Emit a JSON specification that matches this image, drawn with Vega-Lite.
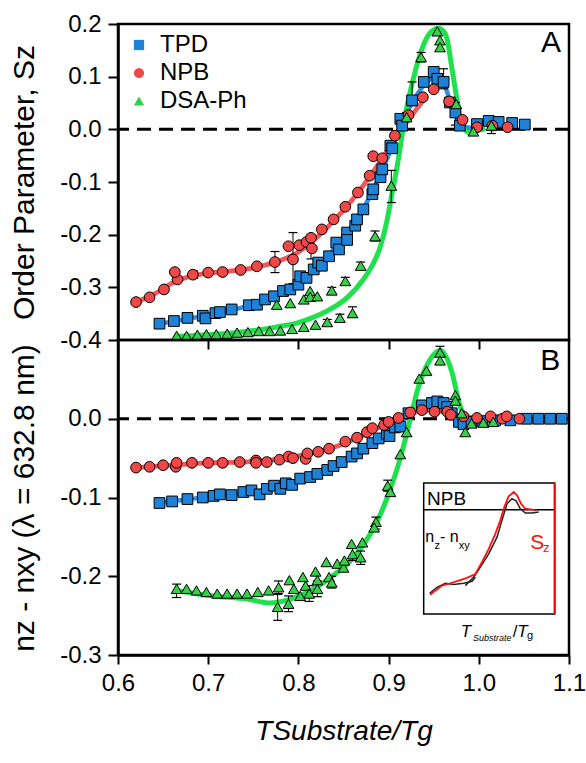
{
  "$schema": "https://vega.github.io/schema/vega-lite/v6.json",
  "padding": {"left": 8, "top": 10, "right": 0, "bottom": 0},
  "bounds": "flush",
  "spacing": 0,
  "background": "white",
  "config": {
    "font": "Liberation Sans",
    "locale": {"number": {"decimal": ".", "thousands": ",", "grouping": [3], "currency": ["", ""], "minus": "-"}},
    "view": {"stroke": "black", "strokeWidth": 2.5},
    "axis": {"domainColor": "black", "domainWidth": 2.5, "tickColor": "black", "tickWidth": 2, "tickSize": 10, "labelFontSize": 24, "labelColor": "black", "labelFont": "Liberation Sans", "labelPadding": 7, "titleFontSize": 30, "titleFontWeight": "normal", "titleColor": "black", "titleFont": "Liberation Sans", "grid": false}
  },
  "datasets": {
    "zero": [{"v": 0}],
    "ptsA": [
      {"series": "TPD", "x": 0.646, "y": -0.369}, {"series": "TPD", "x": 0.662, "y": -0.364}, {"series": "TPD", "x": 0.677, "y": -0.358}, {"series": "TPD", "x": 0.694, "y": -0.354}, {"series": "TPD", "x": 0.697, "y": -0.359}, {"series": "TPD", "x": 0.708, "y": -0.349}, {"series": "TPD", "x": 0.713, "y": -0.347}, {"series": "TPD", "x": 0.726, "y": -0.342}, {"series": "TPD", "x": 0.745, "y": -0.334}, {"series": "TPD", "x": 0.754, "y": -0.333}, {"series": "TPD", "x": 0.763, "y": -0.323}, {"series": "TPD", "x": 0.773, "y": -0.317}, {"series": "TPD", "x": 0.783, "y": -0.307}, {"series": "TPD", "x": 0.791, "y": -0.304}, {"series": "TPD", "x": 0.800, "y": -0.295}, {"series": "TPD", "x": 0.802, "y": -0.279}, {"series": "TPD", "x": 0.809, "y": -0.282}, {"series": "TPD", "x": 0.817, "y": -0.266}, {"series": "TPD", "x": 0.822, "y": -0.253}, {"series": "TPD", "x": 0.826, "y": -0.259}, {"series": "TPD", "x": 0.834, "y": -0.241}, {"series": "TPD", "x": 0.842, "y": -0.215}, {"series": "TPD", "x": 0.845, "y": -0.228}, {"series": "TPD", "x": 0.854, "y": -0.196}, {"series": "TPD", "x": 0.854, "y": -0.210}, {"series": "TPD", "x": 0.863, "y": -0.183}, {"series": "TPD", "x": 0.865, "y": -0.171}, {"series": "TPD", "x": 0.872, "y": -0.152}, {"series": "TPD", "x": 0.882, "y": -0.123}, {"series": "TPD", "x": 0.883, "y": -0.114}, {"series": "TPD", "x": 0.891, "y": -0.091}, {"series": "TPD", "x": 0.893, "y": -0.076}, {"series": "TPD", "x": 0.902, "y": -0.031}, {"series": "TPD", "x": 0.904, "y": -0.036}, {"series": "TPD", "x": 0.913, "y": 0.020}, {"series": "TPD", "x": 0.915, "y": 0.007}, {"series": "TPD", "x": 0.926, "y": 0.055}, {"series": "TPD", "x": 0.939, "y": 0.090}, {"series": "TPD", "x": 0.950, "y": 0.109}, {"series": "TPD", "x": 0.954, "y": 0.096}, {"series": "TPD", "x": 0.961, "y": 0.090}, {"series": "TPD", "x": 0.968, "y": 0.051}, {"series": "TPD", "x": 0.974, "y": 0.032}, {"series": "TPD", "x": 0.979, "y": 0.007}, {"series": "TPD", "x": 0.998, "y": 0.010}, {"series": "TPD", "x": 1.011, "y": 0.016}, {"series": "TPD", "x": 1.022, "y": 0.014}, {"series": "TPD", "x": 1.037, "y": 0.012}, {"series": "TPD", "x": 1.051, "y": 0.009},
      {"series": "NPB", "x": 0.620, "y": -0.328}, {"series": "NPB", "x": 0.635, "y": -0.319}, {"series": "NPB", "x": 0.651, "y": -0.304}, {"series": "NPB", "x": 0.666, "y": -0.285}, {"series": "NPB", "x": 0.663, "y": -0.271}, {"series": "NPB", "x": 0.683, "y": -0.276}, {"series": "NPB", "x": 0.700, "y": -0.272}, {"series": "NPB", "x": 0.716, "y": -0.271}, {"series": "NPB", "x": 0.736, "y": -0.267}, {"series": "NPB", "x": 0.754, "y": -0.260}, {"series": "NPB", "x": 0.774, "y": -0.252}, {"series": "NPB", "x": 0.789, "y": -0.222}, {"series": "NPB", "x": 0.794, "y": -0.247}, {"series": "NPB", "x": 0.801, "y": -0.220}, {"series": "NPB", "x": 0.809, "y": -0.214}, {"series": "NPB", "x": 0.814, "y": -0.206}, {"series": "NPB", "x": 0.815, "y": -0.226}, {"series": "NPB", "x": 0.826, "y": -0.190}, {"series": "NPB", "x": 0.839, "y": -0.171}, {"series": "NPB", "x": 0.852, "y": -0.147}, {"series": "NPB", "x": 0.866, "y": -0.120}, {"series": "NPB", "x": 0.879, "y": -0.088}, {"series": "NPB", "x": 0.883, "y": -0.051}, {"series": "NPB", "x": 0.893, "y": -0.055}, {"series": "NPB", "x": 0.907, "y": -0.012}, {"series": "NPB", "x": 0.922, "y": 0.027}, {"series": "NPB", "x": 0.938, "y": 0.061}, {"series": "NPB", "x": 0.950, "y": 0.076}, {"series": "NPB", "x": 0.967, "y": 0.053}, {"series": "NPB", "x": 0.982, "y": 0.018}, {"series": "NPB", "x": 0.998, "y": 0.004}, {"series": "NPB", "x": 1.015, "y": 0.007}, {"series": "NPB", "x": 1.032, "y": 0.004},
      {"series": "DSA-Ph", "x": 0.665, "y": -0.392}, {"series": "DSA-Ph", "x": 0.676, "y": -0.392}, {"series": "DSA-Ph", "x": 0.688, "y": -0.390}, {"series": "DSA-Ph", "x": 0.698, "y": -0.389}, {"series": "DSA-Ph", "x": 0.709, "y": -0.389}, {"series": "DSA-Ph", "x": 0.721, "y": -0.388}, {"series": "DSA-Ph", "x": 0.732, "y": -0.386}, {"series": "DSA-Ph", "x": 0.744, "y": -0.385}, {"series": "DSA-Ph", "x": 0.756, "y": -0.383}, {"series": "DSA-Ph", "x": 0.768, "y": -0.383}, {"series": "DSA-Ph", "x": 0.780, "y": -0.382}, {"series": "DSA-Ph", "x": 0.793, "y": -0.379}, {"series": "DSA-Ph", "x": 0.806, "y": -0.375}, {"series": "DSA-Ph", "x": 0.819, "y": -0.371}, {"series": "DSA-Ph", "x": 0.832, "y": -0.366}, {"series": "DSA-Ph", "x": 0.846, "y": -0.358}, {"series": "DSA-Ph", "x": 0.860, "y": -0.349}, {"series": "DSA-Ph", "x": 0.776, "y": -0.333}, {"series": "DSA-Ph", "x": 0.791, "y": -0.330}, {"series": "DSA-Ph", "x": 0.806, "y": -0.323}, {"series": "DSA-Ph", "x": 0.813, "y": -0.307}, {"series": "DSA-Ph", "x": 0.813, "y": -0.318}, {"series": "DSA-Ph", "x": 0.821, "y": -0.317}, {"series": "DSA-Ph", "x": 0.837, "y": -0.306}, {"series": "DSA-Ph", "x": 0.852, "y": -0.288}, {"series": "DSA-Ph", "x": 0.869, "y": -0.259}, {"series": "DSA-Ph", "x": 0.885, "y": -0.203}, {"series": "DSA-Ph", "x": 0.903, "y": -0.107}, {"series": "DSA-Ph", "x": 0.920, "y": 0.023}, {"series": "DSA-Ph", "x": 0.936, "y": 0.137}, {"series": "DSA-Ph", "x": 0.954, "y": 0.186}, {"series": "DSA-Ph", "x": 0.957, "y": 0.169}, {"series": "DSA-Ph", "x": 0.957, "y": 0.156}, {"series": "DSA-Ph", "x": 0.975, "y": 0.048}, {"series": "DSA-Ph", "x": 0.994, "y": -0.004}, {"series": "DSA-Ph", "x": 1.014, "y": 0.007}
    ],
    "fitA": [
      {"series": "TPD", "x": 0.646, "y": -0.369}, {"series": "TPD", "x": 0.68, "y": -0.359}, {"series": "TPD", "x": 0.71, "y": -0.349}, {"series": "TPD", "x": 0.74, "y": -0.337}, {"series": "TPD", "x": 0.77, "y": -0.320}, {"series": "TPD", "x": 0.79, "y": -0.303}, {"series": "TPD", "x": 0.81, "y": -0.278}, {"series": "TPD", "x": 0.83, "y": -0.246}, {"series": "TPD", "x": 0.85, "y": -0.205}, {"series": "TPD", "x": 0.865, "y": -0.170}, {"series": "TPD", "x": 0.88, "y": -0.125}, {"series": "TPD", "x": 0.893, "y": -0.075}, {"series": "TPD", "x": 0.905, "y": -0.030}, {"series": "TPD", "x": 0.915, "y": 0.012}, {"series": "TPD", "x": 0.926, "y": 0.050}, {"series": "TPD", "x": 0.94, "y": 0.085}, {"series": "TPD", "x": 0.95, "y": 0.098}, {"series": "TPD", "x": 0.96, "y": 0.090}, {"series": "TPD", "x": 0.97, "y": 0.045}, {"series": "TPD", "x": 0.98, "y": 0.012}, {"series": "TPD", "x": 0.99, "y": 0.003}, {"series": "TPD", "x": 1.0, "y": 0.005},
      {"series": "NPB", "x": 0.62, "y": -0.328}, {"series": "NPB", "x": 0.64, "y": -0.313}, {"series": "NPB", "x": 0.66, "y": -0.292}, {"series": "NPB", "x": 0.68, "y": -0.279}, {"series": "NPB", "x": 0.70, "y": -0.273}, {"series": "NPB", "x": 0.72, "y": -0.270}, {"series": "NPB", "x": 0.74, "y": -0.266}, {"series": "NPB", "x": 0.76, "y": -0.259}, {"series": "NPB", "x": 0.78, "y": -0.249}, {"series": "NPB", "x": 0.80, "y": -0.233}, {"series": "NPB", "x": 0.82, "y": -0.206}, {"series": "NPB", "x": 0.84, "y": -0.172}, {"series": "NPB", "x": 0.86, "y": -0.133}, {"series": "NPB", "x": 0.88, "y": -0.088}, {"series": "NPB", "x": 0.895, "y": -0.050}, {"series": "NPB", "x": 0.91, "y": -0.012}, {"series": "NPB", "x": 0.925, "y": 0.025}, {"series": "NPB", "x": 0.94, "y": 0.058},
      {"series": "DSA-Ph", "x": 0.665, "y": -0.393}, {"series": "DSA-Ph", "x": 0.70, "y": -0.390}, {"series": "DSA-Ph", "x": 0.73, "y": -0.386}, {"series": "DSA-Ph", "x": 0.76, "y": -0.380}, {"series": "DSA-Ph", "x": 0.78, "y": -0.374}, {"series": "DSA-Ph", "x": 0.798, "y": -0.368}, {"series": "DSA-Ph", "x": 0.815, "y": -0.358}, {"series": "DSA-Ph", "x": 0.835, "y": -0.342}, {"series": "DSA-Ph", "x": 0.855, "y": -0.318}, {"series": "DSA-Ph", "x": 0.872, "y": -0.285}, {"series": "DSA-Ph", "x": 0.882, "y": -0.258}, {"series": "DSA-Ph", "x": 0.891, "y": -0.222}, {"series": "DSA-Ph", "x": 0.898, "y": -0.175}, {"series": "DSA-Ph", "x": 0.904, "y": -0.120}, {"series": "DSA-Ph", "x": 0.910, "y": -0.065}, {"series": "DSA-Ph", "x": 0.915, "y": -0.010}, {"series": "DSA-Ph", "x": 0.920, "y": 0.040}, {"series": "DSA-Ph", "x": 0.926, "y": 0.086}, {"series": "DSA-Ph", "x": 0.935, "y": 0.143}, {"series": "DSA-Ph", "x": 0.946, "y": 0.183}, {"series": "DSA-Ph", "x": 0.955, "y": 0.192}, {"series": "DSA-Ph", "x": 0.961, "y": 0.186}, {"series": "DSA-Ph", "x": 0.965, "y": 0.170}, {"series": "DSA-Ph", "x": 0.970, "y": 0.118}, {"series": "DSA-Ph", "x": 0.976, "y": 0.055}, {"series": "DSA-Ph", "x": 0.981, "y": 0.010}, {"series": "DSA-Ph", "x": 0.989, "y": -0.006}, {"series": "DSA-Ph", "x": 0.998, "y": -0.002}, {"series": "DSA-Ph", "x": 1.005, "y": 0.0}
    ],
    "errA": [
      {"x": 0.774, "lo": -0.272, "hi": -0.232}, {"x": 0.794, "lo": -0.293, "hi": -0.196}, {"x": 0.814, "lo": -0.246, "hi": -0.200}, {"x": 0.684, "lo": -0.283, "hi": -0.269},
      {"x": 0.926, "lo": 0.045, "hi": 0.090}, {"x": 0.961, "lo": 0.077, "hi": 0.115}, {"x": 0.974, "lo": 0.008, "hi": 0.051},
      {"x": 0.832, "lo": -0.371, "hi": -0.361}, {"x": 0.846, "lo": -0.364, "hi": -0.351}, {"x": 0.860, "lo": -0.357, "hi": -0.337}, {"x": 0.837, "lo": -0.311, "hi": -0.300}, {"x": 0.852, "lo": -0.294, "hi": -0.281}, {"x": 0.869, "lo": -0.265, "hi": -0.252}, {"x": 0.885, "lo": -0.212, "hi": -0.193}, {"x": 0.903, "lo": -0.139, "hi": -0.078}, {"x": 0.920, "lo": 0.015, "hi": 0.032}, {"x": 0.936, "lo": 0.128, "hi": 0.146}, {"x": 1.014, "lo": -0.008, "hi": 0.016}
    ],
    "ptsB": [
      {"series": "TPD", "x": 0.646, "y": -0.107}, {"series": "TPD", "x": 0.660, "y": -0.105}, {"series": "TPD", "x": 0.677, "y": -0.102}, {"series": "TPD", "x": 0.694, "y": -0.100}, {"series": "TPD", "x": 0.706, "y": -0.098}, {"series": "TPD", "x": 0.713, "y": -0.096}, {"series": "TPD", "x": 0.726, "y": -0.097}, {"series": "TPD", "x": 0.739, "y": -0.093}, {"series": "TPD", "x": 0.748, "y": -0.091}, {"series": "TPD", "x": 0.757, "y": -0.096}, {"series": "TPD", "x": 0.765, "y": -0.089}, {"series": "TPD", "x": 0.773, "y": -0.085}, {"series": "TPD", "x": 0.780, "y": -0.089}, {"series": "TPD", "x": 0.786, "y": -0.082}, {"series": "TPD", "x": 0.793, "y": -0.084}, {"series": "TPD", "x": 0.802, "y": -0.076}, {"series": "TPD", "x": 0.813, "y": -0.074}, {"series": "TPD", "x": 0.821, "y": -0.070}, {"series": "TPD", "x": 0.832, "y": -0.065}, {"series": "TPD", "x": 0.839, "y": -0.060}, {"series": "TPD", "x": 0.848, "y": -0.055}, {"series": "TPD", "x": 0.859, "y": -0.048}, {"series": "TPD", "x": 0.865, "y": -0.044}, {"series": "TPD", "x": 0.872, "y": -0.038}, {"series": "TPD", "x": 0.882, "y": -0.031}, {"series": "TPD", "x": 0.889, "y": -0.025}, {"series": "TPD", "x": 0.898, "y": -0.019}, {"series": "TPD", "x": 0.901, "y": -0.022}, {"series": "TPD", "x": 0.907, "y": -0.011}, {"series": "TPD", "x": 0.913, "y": -0.010}, {"series": "TPD", "x": 0.922, "y": 0.007}, {"series": "TPD", "x": 0.937, "y": 0.017}, {"series": "TPD", "x": 0.948, "y": 0.020}, {"series": "TPD", "x": 0.954, "y": 0.022}, {"series": "TPD", "x": 0.961, "y": 0.020}, {"series": "TPD", "x": 0.965, "y": 0.015}, {"series": "TPD", "x": 0.970, "y": 0.007}, {"series": "TPD", "x": 0.978, "y": -0.004}, {"series": "TPD", "x": 0.983, "y": -0.007}, {"series": "TPD", "x": 0.992, "y": -0.004}, {"series": "TPD", "x": 1.004, "y": -0.003}, {"series": "TPD", "x": 1.018, "y": -0.002}, {"series": "TPD", "x": 1.035, "y": -0.002}, {"series": "TPD", "x": 1.053, "y": 0.0}, {"series": "TPD", "x": 1.066, "y": 0.0}, {"series": "TPD", "x": 1.079, "y": 0.0}, {"series": "TPD", "x": 1.092, "y": 0.0},
      {"series": "NPB", "x": 0.620, "y": -0.062}, {"series": "NPB", "x": 0.635, "y": -0.061}, {"series": "NPB", "x": 0.650, "y": -0.059}, {"series": "NPB", "x": 0.664, "y": -0.061}, {"series": "NPB", "x": 0.665, "y": -0.056}, {"series": "NPB", "x": 0.682, "y": -0.056}, {"series": "NPB", "x": 0.700, "y": -0.056}, {"series": "NPB", "x": 0.716, "y": -0.056}, {"series": "NPB", "x": 0.735, "y": -0.055}, {"series": "NPB", "x": 0.753, "y": -0.053}, {"series": "NPB", "x": 0.753, "y": -0.056}, {"series": "NPB", "x": 0.765, "y": -0.055}, {"series": "NPB", "x": 0.779, "y": -0.052}, {"series": "NPB", "x": 0.789, "y": -0.048}, {"series": "NPB", "x": 0.794, "y": -0.050}, {"series": "NPB", "x": 0.808, "y": -0.051}, {"series": "NPB", "x": 0.810, "y": -0.044}, {"series": "NPB", "x": 0.822, "y": -0.042}, {"series": "NPB", "x": 0.834, "y": -0.038}, {"series": "NPB", "x": 0.852, "y": -0.029}, {"series": "NPB", "x": 0.865, "y": -0.024}, {"series": "NPB", "x": 0.876, "y": -0.017}, {"series": "NPB", "x": 0.882, "y": -0.012}, {"series": "NPB", "x": 0.895, "y": -0.008}, {"series": "NPB", "x": 0.900, "y": -0.004}, {"series": "NPB", "x": 0.911, "y": 0.001}, {"series": "NPB", "x": 0.924, "y": 0.008}, {"series": "NPB", "x": 0.937, "y": 0.011}, {"series": "NPB", "x": 0.951, "y": 0.009}, {"series": "NPB", "x": 0.965, "y": 0.009}, {"series": "NPB", "x": 0.969, "y": 0.005}, {"series": "NPB", "x": 0.983, "y": 0.003}, {"series": "NPB", "x": 0.998, "y": 0.001}, {"series": "NPB", "x": 1.013, "y": 0.003}, {"series": "NPB", "x": 1.026, "y": 0.0}, {"series": "NPB", "x": 1.031, "y": 0.003}, {"series": "NPB", "x": 1.045, "y": 0.0},
      {"series": "DSA-Ph", "x": 0.665, "y": -0.216}, {"series": "DSA-Ph", "x": 0.676, "y": -0.216}, {"series": "DSA-Ph", "x": 0.687, "y": -0.218}, {"series": "DSA-Ph", "x": 0.698, "y": -0.220}, {"series": "DSA-Ph", "x": 0.710, "y": -0.222}, {"series": "DSA-Ph", "x": 0.721, "y": -0.222}, {"series": "DSA-Ph", "x": 0.732, "y": -0.222}, {"series": "DSA-Ph", "x": 0.743, "y": -0.222}, {"series": "DSA-Ph", "x": 0.755, "y": -0.220}, {"series": "DSA-Ph", "x": 0.767, "y": -0.218}, {"series": "DSA-Ph", "x": 0.778, "y": -0.214}, {"series": "DSA-Ph", "x": 0.777, "y": -0.239}, {"series": "DSA-Ph", "x": 0.790, "y": -0.205}, {"series": "DSA-Ph", "x": 0.789, "y": -0.235}, {"series": "DSA-Ph", "x": 0.795, "y": -0.216}, {"series": "DSA-Ph", "x": 0.802, "y": -0.225}, {"series": "DSA-Ph", "x": 0.805, "y": -0.201}, {"series": "DSA-Ph", "x": 0.808, "y": -0.212}, {"series": "DSA-Ph", "x": 0.812, "y": -0.222}, {"series": "DSA-Ph", "x": 0.819, "y": -0.194}, {"series": "DSA-Ph", "x": 0.821, "y": -0.205}, {"series": "DSA-Ph", "x": 0.821, "y": -0.216}, {"series": "DSA-Ph", "x": 0.831, "y": -0.182}, {"series": "DSA-Ph", "x": 0.834, "y": -0.201}, {"series": "DSA-Ph", "x": 0.837, "y": -0.208}, {"series": "DSA-Ph", "x": 0.843, "y": -0.184}, {"series": "DSA-Ph", "x": 0.850, "y": -0.189}, {"series": "DSA-Ph", "x": 0.851, "y": -0.180}, {"series": "DSA-Ph", "x": 0.859, "y": -0.159}, {"series": "DSA-Ph", "x": 0.860, "y": -0.172}, {"series": "DSA-Ph", "x": 0.869, "y": -0.176}, {"series": "DSA-Ph", "x": 0.871, "y": -0.157}, {"series": "DSA-Ph", "x": 0.886, "y": -0.131}, {"series": "DSA-Ph", "x": 0.884, "y": -0.138}, {"series": "DSA-Ph", "x": 0.899, "y": -0.085}, {"series": "DSA-Ph", "x": 0.902, "y": -0.093}, {"series": "DSA-Ph", "x": 0.913, "y": -0.045}, {"series": "DSA-Ph", "x": 0.920, "y": -0.017}, {"series": "DSA-Ph", "x": 0.934, "y": 0.051}, {"series": "DSA-Ph", "x": 0.942, "y": 0.061}, {"series": "DSA-Ph", "x": 0.957, "y": 0.084}, {"series": "DSA-Ph", "x": 0.957, "y": 0.074}, {"series": "DSA-Ph", "x": 0.974, "y": 0.030}, {"series": "DSA-Ph", "x": 0.974, "y": 0.023}, {"series": "DSA-Ph", "x": 0.981, "y": 0.007}, {"series": "DSA-Ph", "x": 0.985, "y": -0.017}, {"series": "DSA-Ph", "x": 0.992, "y": -0.006}, {"series": "DSA-Ph", "x": 1.005, "y": -0.005}, {"series": "DSA-Ph", "x": 1.016, "y": -0.004}
    ],
    "fitB": [
      {"series": "TPD", "x": 0.646, "y": -0.107}, {"series": "TPD", "x": 0.68, "y": -0.102}, {"series": "TPD", "x": 0.72, "y": -0.097}, {"series": "TPD", "x": 0.76, "y": -0.091}, {"series": "TPD", "x": 0.79, "y": -0.083}, {"series": "TPD", "x": 0.82, "y": -0.070}, {"series": "TPD", "x": 0.85, "y": -0.054}, {"series": "TPD", "x": 0.88, "y": -0.033}, {"series": "TPD", "x": 0.90, "y": -0.018}, {"series": "TPD", "x": 0.92, "y": 0.003}, {"series": "TPD", "x": 0.94, "y": 0.017}, {"series": "TPD", "x": 0.955, "y": 0.021}, {"series": "TPD", "x": 0.965, "y": 0.015}, {"series": "TPD", "x": 0.975, "y": 0.0}, {"series": "TPD", "x": 0.985, "y": -0.006}, {"series": "TPD", "x": 1.0, "y": -0.003}, {"series": "TPD", "x": 1.095, "y": 0.0},
      {"series": "NPB", "x": 0.62, "y": -0.062}, {"series": "NPB", "x": 0.66, "y": -0.059}, {"series": "NPB", "x": 0.70, "y": -0.056}, {"series": "NPB", "x": 0.74, "y": -0.055}, {"series": "NPB", "x": 0.78, "y": -0.051}, {"series": "NPB", "x": 0.81, "y": -0.045}, {"series": "NPB", "x": 0.84, "y": -0.036}, {"series": "NPB", "x": 0.87, "y": -0.022}, {"series": "NPB", "x": 0.90, "y": -0.005}, {"series": "NPB", "x": 0.93, "y": 0.009}, {"series": "NPB", "x": 0.95, "y": 0.011}, {"series": "NPB", "x": 0.97, "y": 0.006}, {"series": "NPB", "x": 0.99, "y": 0.002}, {"series": "NPB", "x": 1.05, "y": 0.0},
      {"series": "DSA-Ph", "x": 0.664, "y": -0.218}, {"series": "DSA-Ph", "x": 0.706, "y": -0.225}, {"series": "DSA-Ph", "x": 0.743, "y": -0.229}, {"series": "DSA-Ph", "x": 0.769, "y": -0.234}, {"series": "DSA-Ph", "x": 0.791, "y": -0.229}, {"series": "DSA-Ph", "x": 0.817, "y": -0.216}, {"series": "DSA-Ph", "x": 0.843, "y": -0.195}, {"series": "DSA-Ph", "x": 0.858, "y": -0.180}, {"series": "DSA-Ph", "x": 0.872, "y": -0.160}, {"series": "DSA-Ph", "x": 0.887, "y": -0.131}, {"series": "DSA-Ph", "x": 0.902, "y": -0.089}, {"series": "DSA-Ph", "x": 0.913, "y": -0.050}, {"series": "DSA-Ph", "x": 0.922, "y": -0.010}, {"series": "DSA-Ph", "x": 0.933, "y": 0.040}, {"series": "DSA-Ph", "x": 0.946, "y": 0.075}, {"series": "DSA-Ph", "x": 0.957, "y": 0.087}, {"series": "DSA-Ph", "x": 0.970, "y": 0.060}, {"series": "DSA-Ph", "x": 0.979, "y": 0.017}, {"series": "DSA-Ph", "x": 0.987, "y": -0.001}, {"series": "DSA-Ph", "x": 0.998, "y": -0.006}, {"series": "DSA-Ph", "x": 1.013, "y": -0.003}, {"series": "DSA-Ph", "x": 1.027, "y": -0.002}
    ],
    "errB": [
      {"x": 0.665, "lo": -0.227, "hi": -0.210}, {"x": 0.777, "lo": -0.256, "hi": -0.223}, {"x": 0.778, "lo": -0.222, "hi": -0.206}, {"x": 0.789, "lo": -0.245, "hi": -0.225}, {"x": 0.812, "lo": -0.232, "hi": -0.212}, {"x": 0.821, "lo": -0.226, "hi": -0.206}, {"x": 0.837, "lo": -0.215, "hi": -0.200}, {"x": 0.860, "lo": -0.180, "hi": -0.164}, {"x": 0.869, "lo": -0.185, "hi": -0.168}, {"x": 0.886, "lo": -0.140, "hi": -0.125}, {"x": 0.899, "lo": -0.092, "hi": -0.078}, {"x": 0.957, "lo": 0.079, "hi": 0.092}
    ],
    "inset": [
      {"curve": "Sz", "x": 0.9462, "y": -0.2234}, {"curve": "Sz", "x": 0.9518, "y": -0.2183}, {"curve": "Sz", "x": 0.9592, "y": -0.2119}, {"curve": "Sz", "x": 0.9684, "y": -0.2089}, {"curve": "Sz", "x": 0.9777, "y": -0.2055}, {"curve": "Sz", "x": 0.9869, "y": -0.2021}, {"curve": "Sz", "x": 0.9962, "y": -0.1971}, {"curve": "Sz", "x": 1.0035, "y": -0.1822}, {"curve": "Sz", "x": 1.0110, "y": -0.1652}, {"curve": "Sz", "x": 1.0183, "y": -0.1461}, {"curve": "Sz", "x": 1.0238, "y": -0.1290}, {"curve": "Sz", "x": 1.0283, "y": -0.1121}, {"curve": "Sz", "x": 1.0331, "y": -0.0985}, {"curve": "Sz", "x": 1.0387, "y": -0.0930}, {"curve": "Sz", "x": 1.0424, "y": -0.0972}, {"curve": "Sz", "x": 1.0468, "y": -0.1079}, {"curve": "Sz", "x": 1.0516, "y": -0.1143}, {"curve": "Sz", "x": 1.0590, "y": -0.1155}, {"curve": "Sz", "x": 1.0637, "y": -0.1163},
      {"curve": "n1", "x": 0.9455, "y": -0.2217}, {"curve": "n1", "x": 0.9537, "y": -0.2140}, {"curve": "n1", "x": 0.9629, "y": -0.2089}, {"curve": "n1", "x": 0.9722, "y": -0.2106}, {"curve": "n1", "x": 0.9833, "y": -0.2089}, {"curve": "n1", "x": 0.9925, "y": -0.2064}, {"curve": "n1", "x": 0.9962, "y": -0.2013},
      {"curve": "n2", "x": 0.9850, "y": -0.2119}, {"curve": "n2", "x": 0.9943, "y": -0.2013}, {"curve": "n2", "x": 1.0017, "y": -0.1885}, {"curve": "n2", "x": 1.0110, "y": -0.1716}, {"curve": "n2", "x": 1.0202, "y": -0.1503}, {"curve": "n2", "x": 1.0268, "y": -0.1248}, {"curve": "n2", "x": 1.0313, "y": -0.1079}, {"curve": "n2", "x": 1.0368, "y": -0.1015}, {"curve": "n2", "x": 1.0416, "y": -0.1045}, {"curve": "n2", "x": 1.0460, "y": -0.1143}, {"curve": "n2", "x": 1.0516, "y": -0.1197}, {"curve": "n2", "x": 1.0590, "y": -0.1197}, {"curve": "n2", "x": 1.0664, "y": -0.1185}
    ],
    "box": [{"x": 0.9389, "x2": 1.0841, "y": -0.0815, "y2": -0.2480, "hl": -0.1155}],
    "insetText": [
      {"part": "big", "txt": "NPB", "x": 0.9426, "y": -0.1100},
      {"part": "main", "txt": "n", "x": 0.9407, "y": -0.1567},
      {"part": "main", "txt": "- n", "x": 0.9570, "y": -0.1567},
      {"part": "sub", "txt": "z", "x": 0.9509, "y": -0.1652},
      {"part": "sub", "txt": "xy", "x": 0.9777, "y": -0.1652},
      {"part": "redmain", "txt": "S", "x": 1.0571, "y": -0.1652},
      {"part": "redsub", "txt": "z", "x": 1.0712, "y": -0.1694},
      {"part": "xmain", "txt": "T", "x": 0.9800, "y": -0.2769},
      {"part": "xsub", "txt": "Substrate", "x": 0.9935, "y": -0.2828},
      {"part": "xslash", "txt": "/", "x": 1.0375, "y": -0.2769},
      {"part": "xmain", "txt": "T", "x": 1.0425, "y": -0.2769},
      {"part": "xg", "txt": "g", "x": 1.0535, "y": -0.2798}
    ],
    "tagA": [{"txt": "A", "x": 1.069, "y": 0.1467}],
    "tagB": [{"txt": "B", "x": 1.068, "y": 0.062}]
  },
  "resolve": {"legend": {"fill": "independent", "shape": "independent"}},
  "vconcat": [
    {
      "width": 451,
      "height": 316,
      "layer": [
        {
          "data": {"name": "ptsA"},
          "mark": {"type": "point", "filled": true, "stroke": "black", "strokeWidth": 0.8, "opacity": 0, "size": 1},
          "encoding": {
            "x": {"field": "x", "type": "quantitative", "scale": {"domain": [0.6, 1.1], "nice": false, "zero": false}, "axis": {"orient": "bottom", "values": [0.7, 0.8, 0.9, 1.0], "labels": false, "domain": false, "tickSize": 9, "title": null}},
            "y": {"field": "y", "type": "quantitative", "scale": {"domain": [-0.4, 0.2], "nice": false, "zero": false}, "axis": {"values": [0.2, 0.1, 0, -0.1, -0.2, -0.3, -0.4], "format": ".1f", "title": "Order Parameter, Sz", "titlePadding": 20}}
          }
        },
        {
          "data": {"name": "zero"},
          "mark": {"type": "rule", "strokeDash": [14, 8], "strokeWidth": 3, "color": "black"},
          "encoding": {"y": {"field": "v", "type": "quantitative"}}
        },
        {
          "data": {"name": "fitA"},
          "mark": {"type": "line", "strokeCap": "round", "strokeJoin": "round", "interpolate": "monotone"},
          "encoding": {
            "x": {"field": "x", "type": "quantitative"},
            "y": {"field": "y", "type": "quantitative"},
            "detail": {"field": "series"},
            "stroke": {"field": "series", "type": "nominal", "scale": {"domain": ["TPD", "NPB", "DSA-Ph"], "range": ["#2f8fe3", "#f25757", "#1fe14d"]}, "legend": null},
            "strokeWidth": {"field": "series", "type": "nominal", "scale": {"domain": ["TPD", "NPB", "DSA-Ph"], "range": [4.5, 5, 6.5]}, "legend": null}
          }
        },
        {
          "data": {"name": "errA"},
          "mark": {"type": "rule", "color": "black", "strokeWidth": 1},
          "encoding": {
            "x": {"field": "x", "type": "quantitative"},
            "y": {"field": "lo", "type": "quantitative"},
            "y2": {"field": "hi"}
          }
        },
        {
          "data": {"name": "errA"},
          "mark": {"type": "tick", "orient": "horizontal", "color": "black", "size": 9, "thickness": 1.2, "opacity": 1},
          "encoding": {
            "x": {"field": "x", "type": "quantitative"},
            "y": {"field": "lo", "type": "quantitative"}
          }
        },
        {
          "data": {"name": "errA"},
          "mark": {"type": "tick", "orient": "horizontal", "color": "black", "size": 9, "thickness": 1.2, "opacity": 1},
          "encoding": {
            "x": {"field": "x", "type": "quantitative"},
            "y": {"field": "hi", "type": "quantitative"}
          }
        },
        {
          "data": {"name": "ptsA"},
          "mark": {"type": "point", "filled": true, "stroke": "black", "strokeWidth": 1, "opacity": 1, "size": 115},
          "encoding": {
            "x": {"field": "x", "type": "quantitative"},
            "y": {"field": "y", "type": "quantitative"},
            "shape": {"field": "series", "type": "nominal", "scale": {"domain": ["TPD", "NPB", "DSA-Ph"], "range": ["square", "circle", "triangle-up"]}, "legend": {"title": null, "orient": "top-left", "offset": 9, "padding": 0, "labelFontSize": 24, "labelColor": "black", "labelFont": "Liberation Sans", "symbolSize": 105, "symbolStrokeColor": "black", "symbolStrokeWidth": 1, "labelOffset": 9, "rowPadding": 4}},
            "fill": {"field": "series", "type": "nominal", "scale": {"domain": ["TPD", "NPB", "DSA-Ph"], "range": ["#1f82d9", "#f04848", "#36cf4a"]}, "legend": {"title": null, "orient": "top-left", "offset": 9, "padding": 0, "labelFontSize": 24, "labelColor": "black", "labelFont": "Liberation Sans", "symbolSize": 105, "symbolStrokeColor": "black", "symbolStrokeWidth": 1, "labelOffset": 9, "rowPadding": 4}}
          }
        },
        {
          "data": {"name": "tagA"},
          "mark": {"type": "text", "fontSize": 30, "align": "left", "baseline": "alphabetic", "color": "black"},
          "encoding": {
            "x": {"field": "x", "type": "quantitative"},
            "y": {"field": "y", "type": "quantitative"},
            "text": {"field": "txt"}
          }
        }
      ]
    },
    {
      "width": 451,
      "height": 315,
      "layer": [
        {
          "data": {"name": "ptsB"},
          "mark": {"type": "point", "filled": true, "stroke": "black", "strokeWidth": 0.8, "opacity": 0, "size": 1},
          "encoding": {
            "x": {"field": "x", "type": "quantitative", "scale": {"domain": [0.6, 1.1], "nice": false, "zero": false}, "axis": {"orient": "bottom", "values": [0.6, 0.7, 0.8, 0.9, 1.0, 1.1], "format": ".1f", "tickSize": 9, "labelFlush": false, "title": "TSubstrate/Tg", "titleFontStyle": "italic", "titleFontSize": 28, "titlePadding": 22}},
            "y": {"field": "y", "type": "quantitative", "scale": {"domain": [-0.3, 0.1], "nice": false, "zero": false}, "axis": {"values": [0, -0.1, -0.2, -0.3], "format": ".1f", "title": "nz - nxy (λ = 632.8 nm)", "titlePadding": 20}}
          }
        },
        {
          "data": {"name": "zero"},
          "mark": {"type": "rule", "strokeDash": [14, 8], "strokeWidth": 3, "color": "black"},
          "encoding": {"y": {"field": "v", "type": "quantitative"}}
        },
        {
          "data": {"name": "fitB"},
          "mark": {"type": "line", "strokeCap": "round", "strokeJoin": "round", "interpolate": "monotone"},
          "encoding": {
            "x": {"field": "x", "type": "quantitative"},
            "y": {"field": "y", "type": "quantitative"},
            "detail": {"field": "series"},
            "stroke": {"field": "series", "type": "nominal", "scale": {"domain": ["TPD", "NPB", "DSA-Ph"], "range": ["#2f8fe3", "#f25757", "#1fe14d"]}, "legend": null},
            "strokeWidth": {"field": "series", "type": "nominal", "scale": {"domain": ["TPD", "NPB", "DSA-Ph"], "range": [4.5, 5, 6.5]}, "legend": null}
          }
        },
        {
          "data": {"name": "errB"},
          "mark": {"type": "rule", "color": "black", "strokeWidth": 1},
          "encoding": {
            "x": {"field": "x", "type": "quantitative"},
            "y": {"field": "lo", "type": "quantitative"},
            "y2": {"field": "hi"}
          }
        },
        {
          "data": {"name": "errB"},
          "mark": {"type": "tick", "orient": "horizontal", "color": "black", "size": 9, "thickness": 1.2, "opacity": 1},
          "encoding": {
            "x": {"field": "x", "type": "quantitative"},
            "y": {"field": "lo", "type": "quantitative"}
          }
        },
        {
          "data": {"name": "errB"},
          "mark": {"type": "tick", "orient": "horizontal", "color": "black", "size": 9, "thickness": 1.2, "opacity": 1},
          "encoding": {
            "x": {"field": "x", "type": "quantitative"},
            "y": {"field": "hi", "type": "quantitative"}
          }
        },
        {
          "data": {"name": "ptsB"},
          "mark": {"type": "point", "filled": true, "stroke": "black", "strokeWidth": 1, "opacity": 1, "size": 115},
          "encoding": {
            "x": {"field": "x", "type": "quantitative"},
            "y": {"field": "y", "type": "quantitative"},
            "shape": {"field": "series", "type": "nominal", "scale": {"domain": ["TPD", "NPB", "DSA-Ph"], "range": ["square", "circle", "triangle-up"]}, "legend": null},
            "fill": {"field": "series", "type": "nominal", "scale": {"domain": ["TPD", "NPB", "DSA-Ph"], "range": ["#1f82d9", "#f04848", "#36cf4a"]}, "legend": null}
          }
        },
        {
          "data": {"name": "box"},
          "mark": {"type": "rect", "fill": "white", "stroke": "black", "strokeWidth": 1.5},
          "encoding": {
            "x": {"field": "x", "type": "quantitative"},
            "x2": {"field": "x2"},
            "y": {"field": "y", "type": "quantitative"},
            "y2": {"field": "y2"}
          }
        },
        {
          "data": {"name": "box"},
          "mark": {"type": "rule", "color": "black", "strokeWidth": 1.5},
          "encoding": {
            "x": {"field": "x", "type": "quantitative"},
            "x2": {"field": "x2"},
            "y": {"field": "hl", "type": "quantitative"}
          }
        },
        {
          "data": {"name": "box"},
          "mark": {"type": "rule", "color": "#ff0000", "strokeWidth": 2},
          "encoding": {
            "x": {"field": "x2", "type": "quantitative"},
            "y": {"field": "y", "type": "quantitative"},
            "y2": {"field": "y2"}
          }
        },
        {
          "data": {"name": "inset"},
          "transform": [{"filter": "datum.curve !== 'Sz'"}],
          "mark": {"type": "line", "color": "#222222", "strokeWidth": 1.5},
          "encoding": {
            "x": {"field": "x", "type": "quantitative"},
            "y": {"field": "y", "type": "quantitative"},
            "detail": {"field": "curve"}
          }
        },
        {
          "data": {"name": "inset"},
          "transform": [{"filter": "datum.curve === 'Sz'"}],
          "mark": {"type": "line", "color": "#ff1010", "strokeWidth": 1.8},
          "encoding": {
            "x": {"field": "x", "type": "quantitative"},
            "y": {"field": "y", "type": "quantitative"}
          }
        },
        {
          "data": {"name": "insetText"},
          "transform": [{"filter": "datum.part === 'big'"}],
          "mark": {"type": "text", "fontSize": 19, "align": "left", "baseline": "alphabetic", "color": "black"},
          "encoding": {"x": {"field": "x", "type": "quantitative"}, "y": {"field": "y", "type": "quantitative"}, "text": {"field": "txt"}}
        },
        {
          "data": {"name": "insetText"},
          "transform": [{"filter": "datum.part === 'main'"}],
          "mark": {"type": "text", "fontSize": 16, "align": "left", "baseline": "alphabetic", "color": "black"},
          "encoding": {"x": {"field": "x", "type": "quantitative"}, "y": {"field": "y", "type": "quantitative"}, "text": {"field": "txt"}}
        },
        {
          "data": {"name": "insetText"},
          "transform": [{"filter": "datum.part === 'sub'"}],
          "mark": {"type": "text", "fontSize": 11, "align": "left", "baseline": "alphabetic", "color": "black"},
          "encoding": {"x": {"field": "x", "type": "quantitative"}, "y": {"field": "y", "type": "quantitative"}, "text": {"field": "txt"}}
        },
        {
          "data": {"name": "insetText"},
          "transform": [{"filter": "datum.part === 'redmain'"}],
          "mark": {"type": "text", "fontSize": 21, "align": "left", "baseline": "alphabetic", "color": "#ff1010"},
          "encoding": {"x": {"field": "x", "type": "quantitative"}, "y": {"field": "y", "type": "quantitative"}, "text": {"field": "txt"}}
        },
        {
          "data": {"name": "insetText"},
          "transform": [{"filter": "datum.part === 'redsub'"}],
          "mark": {"type": "text", "fontSize": 13, "align": "left", "baseline": "alphabetic", "color": "#ff1010"},
          "encoding": {"x": {"field": "x", "type": "quantitative"}, "y": {"field": "y", "type": "quantitative"}, "text": {"field": "txt"}}
        },
        {
          "data": {"name": "insetText"},
          "transform": [{"filter": "datum.part === 'xmain'"}],
          "mark": {"type": "text", "fontSize": 17, "fontStyle": "italic", "align": "left", "baseline": "alphabetic", "color": "black"},
          "encoding": {"x": {"field": "x", "type": "quantitative"}, "y": {"field": "y", "type": "quantitative"}, "text": {"field": "txt"}}
        },
        {
          "data": {"name": "insetText"},
          "transform": [{"filter": "datum.part === 'xsub'"}],
          "mark": {"type": "text", "fontSize": 9, "fontStyle": "italic", "align": "left", "baseline": "alphabetic", "color": "black"},
          "encoding": {"x": {"field": "x", "type": "quantitative"}, "y": {"field": "y", "type": "quantitative"}, "text": {"field": "txt"}}
        },
        {
          "data": {"name": "insetText"},
          "transform": [{"filter": "datum.part === 'xslash'"}],
          "mark": {"type": "text", "fontSize": 17, "align": "left", "baseline": "alphabetic", "color": "black"},
          "encoding": {"x": {"field": "x", "type": "quantitative"}, "y": {"field": "y", "type": "quantitative"}, "text": {"field": "txt"}}
        },
        {
          "data": {"name": "insetText"},
          "transform": [{"filter": "datum.part === 'xg'"}],
          "mark": {"type": "text", "fontSize": 11, "align": "left", "baseline": "alphabetic", "color": "black"},
          "encoding": {"x": {"field": "x", "type": "quantitative"}, "y": {"field": "y", "type": "quantitative"}, "text": {"field": "txt"}}
        },
        {
          "data": {"name": "tagB"},
          "mark": {"type": "text", "fontSize": 30, "align": "left", "baseline": "alphabetic", "color": "black"},
          "encoding": {"x": {"field": "x", "type": "quantitative"}, "y": {"field": "y", "type": "quantitative"}, "text": {"field": "txt"}}
        }
      ]
    }
  ]
}
